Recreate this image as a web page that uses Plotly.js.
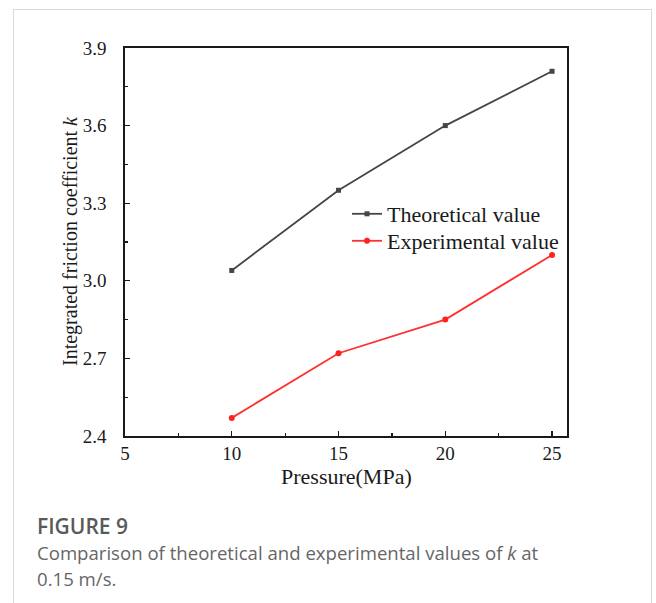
<!DOCTYPE html>
<html>
<head>
<meta charset="utf-8">
<script src="https://cdn.plot.ly/plotly-3.0.1.min.js"></script>
<style>
  html, body { margin: 0; padding: 0; background: #fff; }
  #frame { position: absolute; left: 13px; top: 9px; width: 639px; height: 620px; border: 1px solid #d9d9d9; box-sizing: border-box; }
  #chart { position: absolute; left: 0; top: 0; width: 656px; height: 603px; }
</style>
</head>
<body>
<div id="frame"></div>
<div id="chart"></div>
<script>
// Data
const pressure = [10, 15, 20, 25];
const theoretical = [3.04, 3.35, 3.60, 3.81];
const experimental = [2.47, 2.72, 2.85, 3.10];
const seriesNames = ["Theoretical value", "Experimental value"];
const xTitle = "Pressure(MPa)";
const yTitle = "Integrated friction coefficient <i>k</i>";
const captionHead = "FIGURE 9";
const captionLines = ["Comparison of theoretical and experimental values of <i>k</i> at", "0.15 m/s."];

// Layout constants (pixels)
const W = 656, H = 603;
const M = { l: 125, r: 89, t: 48, b: 167 };
const plotW = W - M.l - M.r, plotH = H - M.t - M.b;
const px = x => (x - M.l) / plotW;
const py = y => (H - M.b - y) / plotH;

const serif = "Liberation Serif, Times New Roman, serif";
const sans = "Open Sans, Noto Sans, sans-serif";

const traces = [
  {
    x: pressure, y: theoretical, name: seriesNames[0], type: "scatter", mode: "lines+markers",
    line: { color: "#454545", width: 1.8 },
    marker: { symbol: "square", size: 5, color: "#454545" },
    legend: "legend"
  },
  {
    x: pressure, y: experimental, name: seriesNames[1], type: "scatter", mode: "lines+markers",
    line: { color: "#ff3030", width: 1.8 },
    marker: { symbol: "circle", size: 6, color: "#ff2020" },
    legend: "legend2"
  }
];

const axisCommon = {
  showline: true, linecolor: "#1a1a1a", linewidth: 1.6, mirror: true,
  ticks: "inside", ticklen: 5, tickwidth: 1.3, tickcolor: "#1a1a1a",
  showgrid: false, zeroline: false,
  tickfont: { family: serif, size: 19, color: "#1a1a1a" }
};

const legendCommon = {
  xanchor: "left", yanchor: "top",
  bgcolor: "rgba(0,0,0,0)", borderwidth: 0,
  font: { family: serif, size: 22, color: "#1a1a1a" },
  itemwidth: 30
};

const layout = {
  width: W, height: H,
  margin: M,
  paper_bgcolor: "rgba(0,0,0,0)",
  plot_bgcolor: "#ffffff",
  showlegend: true,
  legend: Object.assign({}, legendCommon, { x: px(347), y: py(193) }),
  legend2: Object.assign({}, legendCommon, { x: px(347), y: py(220) }),
  xaxis: Object.assign({}, axisCommon, {
    range: [5, 25.7], tickmode: "linear", tick0: 5, dtick: 5,
    ticklabelstandoff: 0,
    minor: { ticks: "inside", ticklen: 3, tickwidth: 1.2, tickcolor: "#1a1a1a", dtick: 2.5, tick0: 5, showgrid: false }
  }),
  yaxis: Object.assign({}, axisCommon, {
    range: [2.4, 3.9], tickmode: "linear", tick0: 2.4, dtick: 0.3, tickformat: ".1f",
    ticklabelstandoff: 13,
    minor: { ticks: "inside", ticklen: 3, tickwidth: 1.2, tickcolor: "#1a1a1a", dtick: 0.15, tick0: 2.4, showgrid: false }
  }),
  annotations: [
    { text: xTitle, xref: "paper", yref: "paper", x: 0.5, y: py(476), xanchor: "center", yanchor: "middle",
      showarrow: false, font: { family: serif, size: 22, color: "#1a1a1a" } },
    { text: yTitle, xref: "paper", yref: "paper", x: px(70), y: py(241), xanchor: "center", yanchor: "middle",
      textangle: -90, showarrow: false, font: { family: serif, size: 20, color: "#1a1a1a" } },
    { text: captionHead, xref: "paper", yref: "paper", x: px(35), y: py(526), xanchor: "left", yanchor: "middle",
      showarrow: false, font: { family: sans, size: 21, color: "#5a5a5a", weight: 600 } },
    { text: captionLines[0], xref: "paper", yref: "paper", x: px(35), y: py(552), xanchor: "left", yanchor: "middle",
      showarrow: false, font: { family: sans, size: 18.6, color: "#666666", weight: 400 } },
    { text: captionLines[1], xref: "paper", yref: "paper", x: px(35), y: py(578), xanchor: "left", yanchor: "middle",
      showarrow: false, font: { family: sans, size: 18.6, color: "#666666", weight: 400 } }
  ]
};

Plotly.newPlot("chart", traces, layout, { displayModeBar: false, staticPlot: true });
</script>
</body>
</html>
